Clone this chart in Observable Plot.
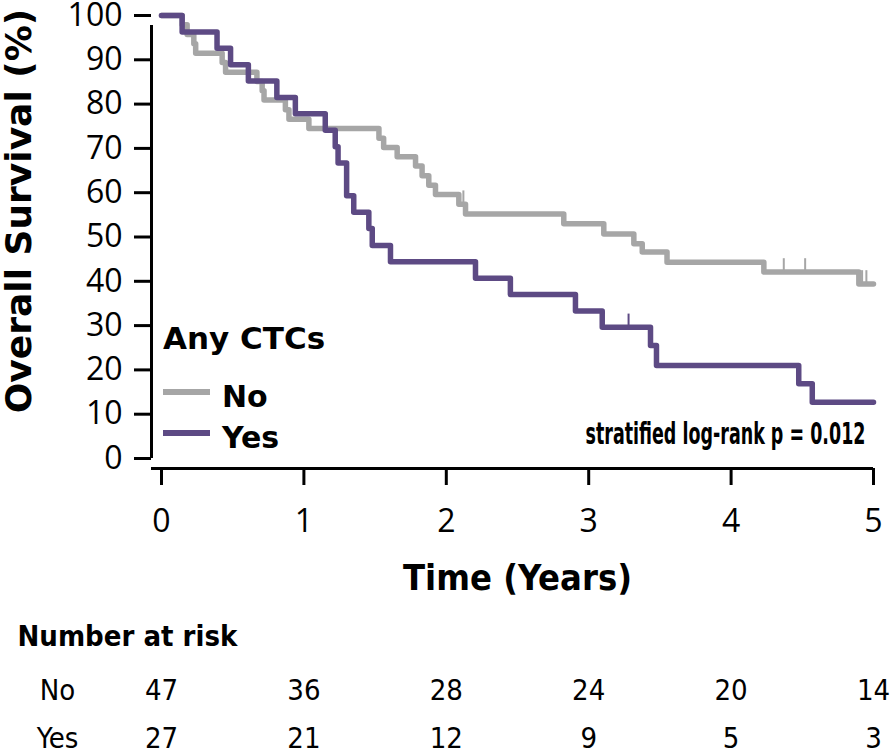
<!DOCTYPE html>
<html><head><meta charset="utf-8">
<script src="https://cdn.jsdelivr.net/npm/d3@7"></script>
<script src="https://cdn.jsdelivr.net/npm/@observablehq/plot@0.6"></script>
<style>body{margin:0;background:#fff}</style>
</head><body><div id="chart"></div>
<script>
// Kaplan-Meier steps, group "No" (no CTCs)
const noTime = [0, 0.145, 0.18, 0.227, 0.24, 0.426, 0.45, 0.67, 0.707, 0.72, 0.87, 0.895, 1.035, 1.527, 1.56, 1.655, 1.784, 1.83, 1.877, 1.924, 2.088, 2.135, 2.825, 3.106, 3.317, 3.376, 3.55, 4.23, 4.897, 5.0];
const noSurv = [100, 97.9, 95.7, 93.6, 91.5, 89.4, 87.2, 85.1, 83.0, 80.9, 78.7, 76.6, 74.5, 72.3, 70.2, 68.1, 66.0, 63.8, 61.7, 59.6, 57.4, 55.2, 53.0, 50.7, 48.5, 46.6, 44.3, 42.1, 39.4, 39.4];
const noCensorTime = [2.12, 4.37, 4.52, 4.92, 4.95];
const noCensorSurv = [57.4, 42.1, 42.1, 39.4, 39.4];
// group "Yes" (any CTCs)
const yesTime = [0, 0.145, 0.39, 0.485, 0.61, 0.81, 0.94, 1.15, 1.22, 1.24, 1.30, 1.35, 1.456, 1.48, 1.608, 2.205, 2.45, 2.907, 3.095, 3.434, 3.476, 4.475, 4.57, 5.0];
const yesSurv = [100, 96.3, 92.6, 88.9, 85.2, 81.5, 77.8, 74.1, 70.4, 66.7, 59.3, 55.6, 51.9, 48.1, 44.4, 40.7, 37.0, 33.3, 29.6, 25.5, 21.0, 16.9, 12.7, 12.7];
const yesCensorTime = [3.28];
const yesCensorSurv = [29.6];
// axis ticks
const xTicks = [0, 1, 2, 3, 4, 5];
const yTicks = [0, 10, 20, 30, 40, 50, 60, 70, 80, 90, 100];
// number at risk
const riskTimes = [0, 1, 2, 3, 4, 5];
const riskNo = [47, 36, 28, 24, 20, 14];
const riskYes = [27, 21, 12, 9, 5, 3];
const groups = ["No", "Yes"];

const colNo = "#a6a6a6", colYes = "#5d4a84";
const narrow = "'Liberation Sans Narrow', 'DejaVu Sans Condensed', Roboto, sans-serif";
const wide = "'DejaVu Sans', Verdana, sans-serif";
const tickFont = "'Open Sans', sans-serif";

const noData = noTime.map((t, i) => ({t, s: noSurv[i]}));
const yesData = yesTime.map((t, i) => ({t, s: yesSurv[i]}));
const noCens = noCensorTime.map((t, i) => ({t, s: noCensorSurv[i]}));
const yesCens = yesCensorTime.map((t, i) => ({t, s: yesCensorSurv[i]}));
const riskNoRows = riskTimes.map((t, i) => ({t, n: riskNo[i]}));
const riskYesRows = riskTimes.map((t, i) => ({t, n: riskYes[i]}));

function legend(index, scales, values, dim) {
  const g = d3.create("svg:g").attr("text-anchor", "start");
  const x0 = dim.marginLeft + 2;
  g.append("text").attr("x", x0).attr("y", 338).attr("dy", "0.35em")
    .attr("font-family", wide).attr("font-weight", "bold").attr("font-size", 31).text("Any CTCs");
  groups.forEach((k, i) => {
    const y = 392 + i * 41;
    g.append("line").attr("x1", x0).attr("x2", x0 + 47).attr("y1", y).attr("y2", y)
      .attr("stroke", i ? colYes : colNo).attr("stroke-width", 6);
    g.append("text").attr("x", x0 + 59).attr("y", y + 4).attr("dy", "0.35em")
      .attr("font-family", wide).attr("font-weight", "bold").attr("font-size", 30).text(k);
  });
  return g.node();
}

const chart = Plot.plot({
  width: 892, height: 756,
  marginLeft: 161, marginRight: 19, marginTop: 15, marginBottom: 298,
  style: {fontFamily: tickFont, fontSize: "32px", color: "#000", background: "#fff"},
  x: {domain: [0, 5]},
  y: {domain: [0, 100]},
  marks: [
    Plot.axisY({ticks: yTicks, tickSize: 17, tickPadding: 12, dx: -10, strokeWidth: 3, label: null, fontSize: 32, fontFamily: tickFont}),
    Plot.axisX({ticks: xTicks, tickFormat: d3.format("d"), tickSize: 17, tickPadding: 24, dy: 10, strokeWidth: 3, label: null, fontSize: 32, fontFamily: tickFont}),
    Plot.ruleX([0], {y1: 0, y2: 100, dx: -10, insetBottom: -10, strokeWidth: 3}),
    Plot.ruleY([0], {x1: 0, x2: 5, dy: 10, insetLeft: -10, strokeWidth: 3}),
    Plot.line(noData, {x: "t", y: "s", curve: "step-after", stroke: colNo, strokeWidth: 5.5}),
    Plot.ruleX(noCens, {x: "t", y1: "s", y2: d => d.s + 3, stroke: colNo, strokeWidth: 2}),
    Plot.line(yesData, {x: "t", y: "s", curve: "step-after", stroke: colYes, strokeWidth: 5.5}),
    Plot.ruleX(yesCens, {x: "t", y1: "s", y2: d => d.s + 3, stroke: colYes, strokeWidth: 2}),
    legend,
    Plot.text(["stratified log-rank p = 0.012"], {className: "narrowfit", frameAnchor: "bottom-right", textAnchor: "end", dx: -8, dy: -15, fontFamily: narrow, fontWeight: "bold", fontSize: 30}),
    Plot.text(["Overall Survival (%)"], {frameAnchor: "left", textAnchor: "middle", rotate: -90, dx: -142, dy: -26, fontFamily: wide, fontWeight: "bold", fontSize: 36}),
    Plot.text(["Time (Years)"], {frameAnchor: "bottom", dy: 131, fontFamily: narrow, fontWeight: "bold", fontSize: 36}),
    Plot.text(["Number at risk"], {frameAnchor: "bottom-left", textAnchor: "start", dx: -144, dy: 187, fontFamily: narrow, fontWeight: "bold", fontSize: 29}),
    Plot.text(riskNoRows, {x: "t", text: "n", frameAnchor: "bottom", dy: 241, fontFamily: narrow, fontSize: 29}),
    Plot.text(riskYesRows, {x: "t", text: "n", frameAnchor: "bottom", dy: 289, fontFamily: narrow, fontSize: 29}),
    Plot.text(["No"], {frameAnchor: "bottom-left", textAnchor: "middle", dx: -104, dy: 241, fontFamily: narrow, fontSize: 29}),
    Plot.text(["Yes"], {frameAnchor: "bottom-left", textAnchor: "middle", dx: -104, dy: 289, fontFamily: narrow, fontSize: 29})
  ]
});
// squeeze the p-value note to the narrow width it has in the reference
d3.select(chart).selectAll(".narrowfit text").attr("textLength", 280).attr("lengthAdjust", "spacingAndGlyphs");
document.getElementById("chart").append(chart);
</script>
</body></html>
